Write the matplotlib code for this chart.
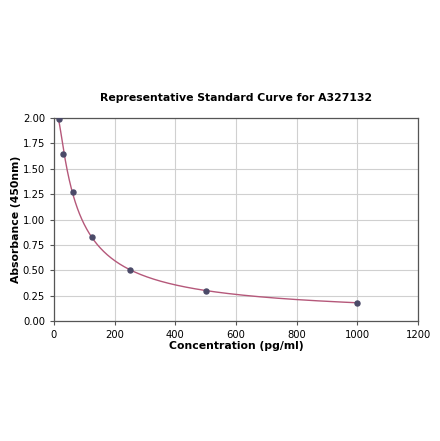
import matplotlib
matplotlib.use("Agg")
import matplotlib.pyplot as plt
import numpy as np

# standard curve data
conc = [15.625, 31.25, 62.5, 125, 250, 500, 1000]
absorb = [1.99, 1.65, 1.27, 0.83, 0.50, 0.30, 0.18]

TITLE = "Representative Standard Curve for A327132"
XLABEL = "Concentration (pg/ml)"
YLABEL = "Absorbance (450nm)"

LINE_COLOR = "#b5587a"
POINT_COLOR = "#4b4a68"

# smooth fit in log-log space
lx = np.log10(conc)
ly = np.log10(absorb)
coef = np.polyfit(lx, ly, 3)
xs = np.logspace(lx[0], lx[-1], 300)
ys = 10 ** np.polyval(coef, np.log10(xs))

fig = plt.figure(figsize=(4.4, 4.41), dpi=100)
ax = fig.add_axes([0.1227, 0.2721, 0.8273, 0.4603])

ax.plot(xs, ys, color=LINE_COLOR, lw=1.0, zorder=2)
ax.scatter(conc, absorb, s=13, color=POINT_COLOR, zorder=3, clip_on=True)

ax.set_xlim(0, 1200)
ax.set_ylim(0, 2.0)
ax.set_xticks(np.arange(0, 1201, 200))
ax.set_yticks(np.arange(0, 2.01, 0.25))
ax.yaxis.set_major_formatter(matplotlib.ticker.FormatStrFormatter("%.2f"))
ax.grid(True, color="#d0d0d0", lw=0.8)
ax.set_axisbelow(True)
for s in ax.spines.values():
    s.set_color("#555555")
    s.set_linewidth(0.9)
ax.tick_params(labelsize=7.2, length=3, color="#555555")

ax.set_title(TITLE, fontsize=7.8, fontweight="bold", pad=12)
ax.set_xlabel(XLABEL, fontsize=7.8, fontweight="bold", labelpad=1)
ax.set_ylabel(YLABEL, fontsize=7.8, fontweight="bold", labelpad=1)

fig.savefig("out.png", dpi=100)
